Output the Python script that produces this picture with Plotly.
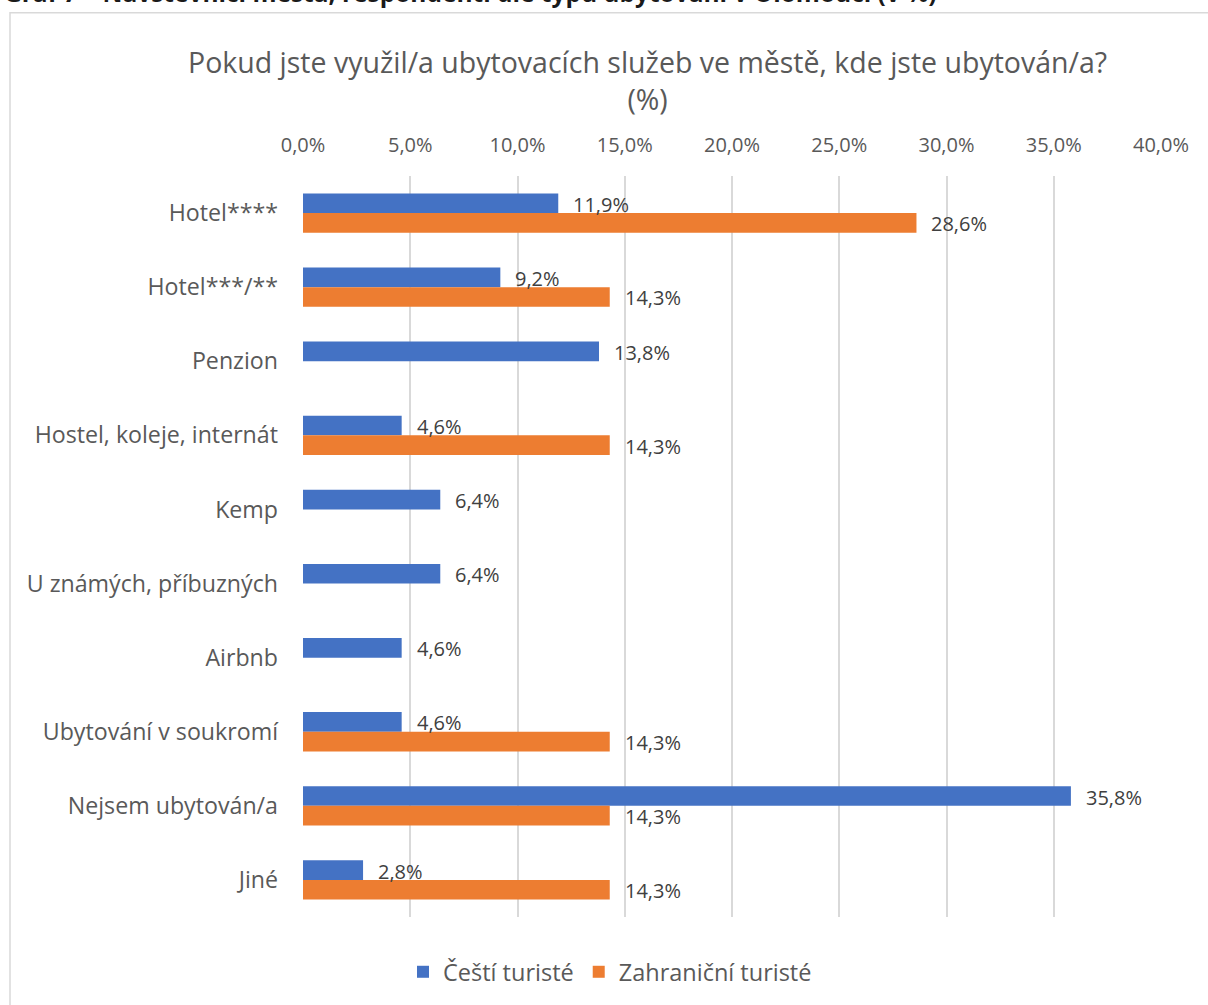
import plotly.graph_objects as go

# Accommodation type categories (top to bottom)
categories = [
    "Hotel****",
    "Hotel***/**",
    "Penzion",
    "Hostel, koleje, internát",
    "Kemp",
    "U známých, příbuzných",
    "Airbnb",
    "Ubytování v soukromí",
    "Nejsem ubytován/a",
    "Jiné",
]
czech = [11.9, 9.2, 13.8, 4.6, 6.4, 6.4, 4.6, 4.6, 35.8, 2.8]
foreign = [28.6, 14.3, None, 14.3, None, None, None, 14.3, 14.3, 14.3]
series_names = ["Čeští turisté", "Zahraniční turisté"]
tick_vals = [0, 5, 10, 15, 20, 25, 30, 35, 40]

W, H = 1208, 1005
ML, MR, MT, MB = 303, W - 1161, 176, H - 918
PW, PH = W - ML - MR, H - MT - MB
BARGAP = 0.47


def px_x(p):
    return (p - ML) / PW


def px_y(p):
    return (H - MB - p) / PH


def fmt(v):
    return f"{v:.1f}".replace(".", ",") + "%"


FONT = "Open Sans"
GREY = "#595959"

fig = go.Figure()
fig.add_trace(go.Bar(
    y=categories, x=czech, orientation="h", name=series_names[0],
    marker=dict(color="#4472C4", line=dict(width=0)),
))
fig.add_trace(go.Bar(
    y=categories, x=foreign, orientation="h", name=series_names[1],
    marker=dict(color="#ED7D31", line=dict(width=0)),
))

annotations = []
# value labels just past the end of each bar, centred on the bar
half = (1 - BARGAP) / 4
for vals, off in ((czech, -half), (foreign, half)):
    for i, v in enumerate(vals):
        if v is None:
            continue
        annotations.append(dict(
            x=v, y=i + off, xref="x", yref="y", text=fmt(v),
            showarrow=False, xanchor="left", yanchor="middle",
            xshift=13, yshift=-1, font=dict(family=FONT, size=20, color="#404040"),
        ))

# chart title
annotations.append(dict(
    x=px_x(647), y=px_y(80), xref="paper", yref="paper",
    text="Pokud jste využil/a ubytovacích služeb ve městě, kde jste ubytován/a?<br>(%)",
    showarrow=False, xanchor="center", yanchor="middle",
    font=dict(family=FONT, size=28.5, color=GREY),
))

# caption above the chart frame
annotations.append(dict(
    x=px_x(2), y=px_y(11), xref="paper", yref="paper",
    text="<b>Graf 7 – Návštěvníci města, respondenti dle typu ubytování v Olomouci (v %)</b>",
    showarrow=False, xanchor="left", yanchor="bottom",
    font=dict(family=FONT, size=24.5, color="#1a1a1a"),
))

fig.update_layout(
    width=W, height=H,
    margin=dict(l=ML, r=MR, t=MT, b=MB, pad=0),
    paper_bgcolor="white", plot_bgcolor="white",
    barmode="group", bargap=BARGAP, bargroupgap=0,
    showlegend=True,
    legend=dict(
        orientation="h", x=px_x(610), y=px_y(972), xanchor="center", yanchor="middle",
        font=dict(family=FONT, size=23.5, color=GREY), itemwidth=30,
        traceorder="normal",
    ),
    annotations=annotations,
    shapes=[dict(
        type="rect", xref="paper", yref="paper",
        x0=px_x(10), x1=px_x(1214), y0=px_y(1012), y1=px_y(12.5),
        line=dict(color="#d9d9d9", width=1.5), fillcolor="rgba(0,0,0,0)", layer="below",
    )],
)

fig.update_xaxes(
    side="top", range=[0, 40], tickvals=tick_vals,
    ticktext=[fmt(v) for v in tick_vals],
    showgrid=True, gridcolor="#d9d9d9", gridwidth=2,
    zeroline=False, showline=False, ticks="", ticklabelstandoff=19,
    tickfont=dict(family=FONT, size=20, color=GREY),
)
fig.update_yaxes(
    autorange="reversed", showgrid=False, zeroline=False,
    showline=False, ticks="", ticklabelstandoff=24,
    tickfont=dict(family=FONT, size=23.2, color=GREY),
)

fig.write_html("out.html")
